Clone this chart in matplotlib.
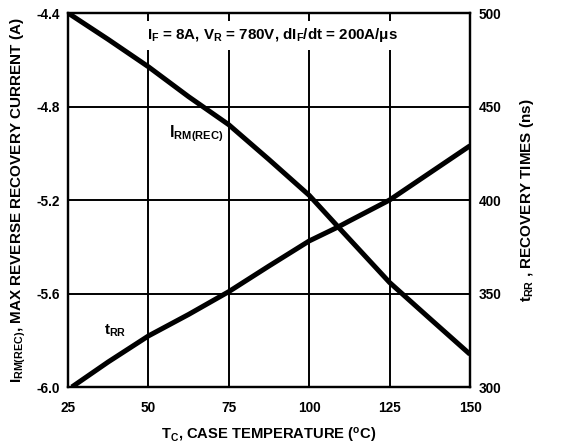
import matplotlib
matplotlib.use("Agg")
import matplotlib.pyplot as plt

plt.rcParams['font.family'] = ['Liberation Sans', 'DejaVu Sans']
plt.rcParams['font.weight'] = 'bold'
plt.rcParams['mathtext.fontset'] = 'custom'
plt.rcParams['mathtext.rm'] = 'Liberation Sans:bold'
plt.rcParams['mathtext.bf'] = 'Liberation Sans:bold'
plt.rcParams['mathtext.it'] = 'Liberation Sans:bold'
plt.rcParams['mathtext.default'] = 'rm'

# Case temperature (°C) vs. peak reverse recovery current (A)
temp_irm = [25, 37.5, 50, 62.5, 75, 87.5, 100, 109, 125, 137.5, 150]
irm = [-4.40, -4.513, -4.63, -4.758, -4.878, -5.027, -5.18, -5.315,
       -5.553, -5.707, -5.86]

# Case temperature (°C) vs. reverse recovery time (ns)
temp_trr = [26.2, 37.5, 50, 62.5, 75, 87.5, 100, 109, 112.5, 125, 137.5, 150]
trr = [300, 313.4, 327.3, 338.8, 351, 364.7, 378.1, 385.6, 388.8, 400,
       414.5, 429]

x_ticks = [25, 50, 75, 100, 125, 150]
left_ticks = [-6.0, -5.6, -5.2, -4.8, -4.4]
right_ticks = [300, 350, 400, 450, 500]

fig = plt.figure(figsize=(5.63, 4.44), dpi=100)
ax = fig.add_axes([68 / 563, 1 - 387 / 444, (470 - 68) / 563, (387 - 13) / 444])
ax2 = ax.twinx()

ax.set_xlim(25, 150)
ax.set_ylim(-6.0, -4.4)
ax2.set_ylim(300, 500)

ax.set_xticks(x_ticks)
ax.set_xticklabels([str(t) for t in x_ticks])
ax.set_yticks(left_ticks)
ax.set_yticklabels([f"{v:.1f}" for v in left_ticks])
ax2.set_yticks(right_ticks)
ax2.set_yticklabels([str(v) for v in right_ticks])

for a in (ax, ax2):
    a.tick_params(length=0, labelsize=9.8, pad=6)
    for s in a.spines.values():
        s.set_linewidth(1.6)
        s.set_color('black')
ax.tick_params(axis='x', pad=10)

ax.grid(True, color='black', linewidth=1.4)
ax.set_axisbelow(True)

ax.plot(temp_irm, irm, color='black', linewidth=3.6, solid_capstyle='butt',
        solid_joinstyle='round', zorder=3)
ax2.plot(temp_trr, trr, color='black', linewidth=3.6, solid_capstyle='butt',
         solid_joinstyle='round', zorder=3)

ax.text(88.6, -4.512, r"I$_\mathrm{F}$ = 8A, V$_\mathrm{R}$ = 780V, dI$_\mathrm{F}$/dt = 200A/μs",
        ha='center', va='baseline', fontsize=10.9, fontweight='bold',
        bbox=dict(facecolor='white', edgecolor='none', pad=4), zorder=4)
ax.text(56.3, -4.932, r"I$_\mathrm{RM(REC)}$", ha='left', va='baseline', fontsize=11.5,
        fontweight='bold', zorder=4)
ax.text(36.2, -5.775, r"t$_\mathrm{RR}$", ha='left', va='baseline', fontsize=11,
        fontweight='bold', zorder=4)

ax.set_xlabel(r"T$_\mathrm{C}$, CASE TEMPERATURE ($^\mathrm{o}$C)", fontsize=10.6,
              fontweight='bold', labelpad=8)
ax.set_ylabel(r"I$_\mathrm{RM(REC)}$, MAX REVERSE RECOVERY CURRENT (A)", fontsize=11,
              fontweight='bold', labelpad=6)
ax2.set_ylabel(r"t$_\mathrm{RR}$ , RECOVERY TIMES (ns)", fontsize=11,
               fontweight='bold', labelpad=12)

fig.savefig("out.png", dpi=100, facecolor='white')
